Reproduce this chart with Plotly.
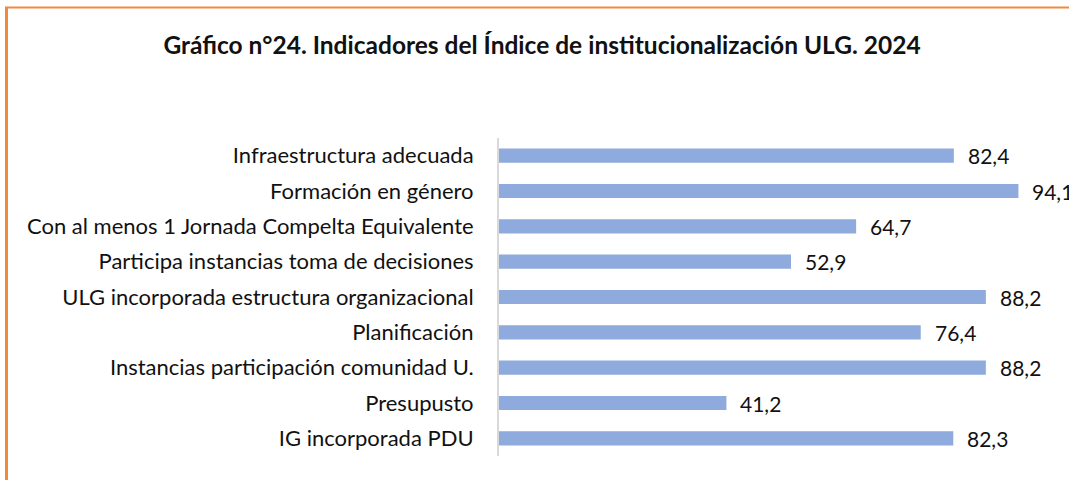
import plotly.graph_objects as go

categories = [
    "Infraestructura adecuada",
    "Formación en género",
    "Con al menos 1 Jornada Compelta Equivalente",
    "Participa instancias toma de decisiones",
    "ULG incorporada estructura organizacional",
    "Planificación",
    "Instancias participación comunidad U.",
    "Presupusto",
    "IG incorporada PDU",
]
values = [82.4, 94.1, 64.7, 52.9, 88.2, 76.4, 88.2, 41.2, 82.3]
value_labels = [f"{v:.1f}".replace(".", ",") for v in values]

title_text = "Gráfico n°24. Indicadores del Índice de institucionalización ULG. 2024"

W, H = 1069, 480
L, R, T, B = 499, 18, 138, 24
pw = W - L - R
ph = H - T - B

fig = go.Figure()
fig.add_trace(go.Bar(
    x=values, y=categories, orientation="h",
    marker=dict(color="#8FAADC", line=dict(width=0)),
    width=0.4,
    hoverinfo="skip",
))

for c, v, t in zip(categories, values, value_labels):
    fig.add_annotation(x=v, y=c, xref="x", yref="y", text=t, showarrow=False,
                       xanchor="left", yanchor="middle", xshift=12,
                       font=dict(family="Lato", size=21, color="#111111"))

orange = "#F08A41"
fig.add_shape(type="line", xref="paper", yref="paper",
              x0=(6.5 - L) / pw, x1=(6.5 - L) / pw, y0=1 + (T - 7) / ph, y1=-B / ph - 0.01,
              line=dict(color=orange, width=3))
fig.add_shape(type="line", xref="paper", yref="paper",
              x0=(5 - L) / pw, x1=(W + 5 - L) / pw, y0=1 + (T - 7.5) / ph, y1=1 + (T - 7.5) / ph,
              line=dict(color=orange, width=2))

fig.update_layout(
    width=W, height=H,
    margin=dict(l=L, r=R, t=T, b=B, autoexpand=False),
    paper_bgcolor="white", plot_bgcolor="white",
    showlegend=False,
    title=dict(text=f"<b>{title_text}</b>", x=542 / W, xanchor="center",
               y=1 - 45 / H, yanchor="middle",
               font=dict(family="Lato", size=24.5, color="#111111")),
    xaxis=dict(range=[0, 100], visible=False, fixedrange=True),
    yaxis=dict(autorange="reversed", showline=True, linecolor="#D9D9D9", linewidth=2,
               ticks="", ticklabelstandoff=19, showgrid=False, fixedrange=True,
               tickfont=dict(family="Lato", size=22, color="#111111")),
    font=dict(family="Lato"),
)

fig.write_html(
    "out.html",
    config={"displayModeBar": False, "staticPlot": True},
    post_script="document.body.style.margin='0';document.body.style.overflow='hidden';",
)
